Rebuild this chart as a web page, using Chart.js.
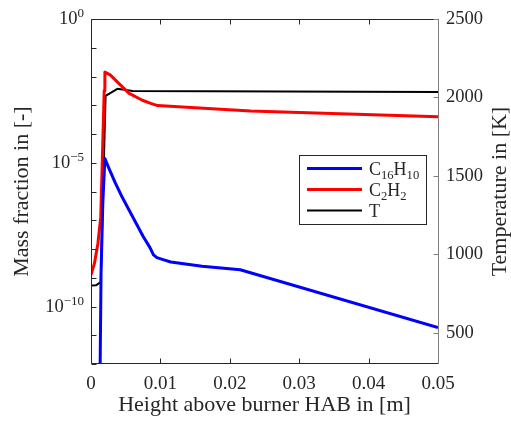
<!DOCTYPE html>
<html>
<head>
<meta charset="utf-8">
<script src="https://cdn.jsdelivr.net/npm/chart.js@4.4.1/dist/chart.umd.min.js"></script>
<style>
  html, body { margin: 0; padding: 0; background: #fff; }
  canvas { display: block; }
</style>
</head>
<body>
<canvas id="myChart" width="511" height="424"></canvas>
<script>
// height above burner [m] and values per series
var habC16 = [0.0012, 0.0013, 0.00145, 0.0017, 0.0020, 0.0026, 0.0035, 0.0045, 0.0055, 0.0065, 0.0075, 0.0085, 0.0090, 0.0095, 0.0105, 0.0115, 0.016, 0.0215, 0.05];
var c16h10 = [1e-16, 3e-13, 1.6e-9, 4.0e-7, 1.41e-5, 6.3e-6, 2.0e-6, 6.3e-7, 2.24e-7, 7.9e-8, 2.8e-8, 1.12e-8, 6.3e-9, 5.0e-9, 4.2e-9, 3.55e-9, 2.5e-9, 1.9e-9, 1.86e-11];

var habC2 = [0, 0.0005, 0.001, 0.0014, 0.0016, 0.0019, 0.0020, 0.0028, 0.004, 0.0055, 0.0074, 0.0086, 0.0096, 0.015, 0.023, 0.05];
var c2h2 = [1.26e-9, 3.2e-9, 1.6e-8, 1.26e-7, 6.3e-6, 3.2e-3, 1.45e-2, 1.12e-2, 5.8e-3, 2.6e-3, 1.5e-3, 1.17e-3, 9.8e-4, 8.3e-4, 6.3e-4, 4.0e-4];

var habT = [0, 0.0007, 0.0014, 0.0021, 0.0038, 0.006, 0.05];
var temp = [800, 802, 822, 2010, 2055, 2042, 2035];

var seriesNames = ["C_16H_10", "C_2H_2", "T"];
var seriesColors = ["#0000ff", "#ff0000", "#000000"];

var xTicks = [0, 0.01, 0.02, 0.03, 0.04, 0.05];
var xTickLabels = ["0", "0.01", "0.02", "0.03", "0.04", "0.05"];
var yDecades = [1e-12, 1e-11, 1e-10, 1e-9, 1e-8, 1e-7, 1e-6, 1e-5, 1e-4, 1e-3, 1e-2, 1e-1, 1];
var yLabelTicks = [1, 1e-5, 1e-10];
var yLabelExp = ["0", "\u22125", "\u221210"];
var tTicks = [500, 1000, 1500, 2000, 2500];
var tTickLabels = ["500", "1000", "1500", "2000", "2500"];

var FONT = '"Liberation Serif", "Times New Roman", serif';
var INK = "#262626";

function pts(xs, ys) {
  return xs.map(function (x, i) { return { x: x, y: ys[i] }; });
}

// text with "_12" parts drawn as subscripts
function drawRich(ctx, text, x, y, size) {
  var parts = text.split(/(_\d+)/);
  parts.forEach(function (p) {
    if (!p) return;
    if (p.charAt(0) === "_") {
      ctx.font = (size * 0.7) + "px " + FONT;
      ctx.fillText(p.slice(1), x, y + 4);
      x += ctx.measureText(p.slice(1)).width;
    } else {
      ctx.font = size + "px " + FONT;
      ctx.fillText(p, x, y);
      x += ctx.measureText(p).width;
    }
  });
  return x;
}

var axesPlugin = {
  id: "matlabAxes",
  afterDraw: function (chart) {
    var ctx = chart.ctx, a = chart.chartArea;
    var xs = chart.scales.x, yl = chart.scales.y, yr = chart.scales.y1;
    var L = Math.round(a.left) + 0.5, R = Math.round(a.right) + 0.5;
    var T = Math.round(a.top) + 0.5, B = Math.round(a.bottom) - 0.5;
    ctx.save();
    ctx.lineWidth = 1;

    // ticks, pointing inwards
    ctx.strokeStyle = INK;
    ctx.beginPath();
    xTicks.forEach(function (v) {
      var px = Math.round(xs.getPixelForValue(v)) + 0.5;
      ctx.moveTo(px, B); ctx.lineTo(px, B - 5);
      ctx.moveTo(px, T); ctx.lineTo(px, T + 5);
    });
    yDecades.forEach(function (v) {
      var py = Math.round(yl.getPixelForValue(v)) + 0.5;
      ctx.moveTo(L, py); ctx.lineTo(L + 5, py);
    });
    ctx.moveTo(L, T); ctx.lineTo(R, T);
    ctx.moveTo(L, T); ctx.lineTo(L, B);
    ctx.moveTo(L, B); ctx.lineTo(R, B);
    ctx.stroke();

    ctx.strokeStyle = "#808080";
    ctx.beginPath();
    tTicks.forEach(function (v) {
      var py = Math.round(yr.getPixelForValue(v)) + 0.5;
      ctx.moveTo(R, py); ctx.lineTo(R - 5, py);
    });
    ctx.moveTo(R, T); ctx.lineTo(R, B + 0.5);
    ctx.stroke();

    // left tick labels 10^n
    ctx.fillStyle = INK;
    ctx.textBaseline = "alphabetic";
    ctx.textAlign = "left";
    yLabelTicks.forEach(function (v, i) {
      var py = yl.getPixelForValue(v);
      ctx.font = "18.5px " + FONT;
      var wb = ctx.measureText("10").width;
      ctx.font = "13px " + FONT;
      var we = ctx.measureText(yLabelExp[i]).width;
      var x0 = a.left - 7 - wb - we;
      ctx.font = "18.5px " + FONT;
      ctx.fillText("10", x0, py + 5);
      ctx.font = "13px " + FONT;
      ctx.fillText(yLabelExp[i], x0 + wb, py - 2);
    });

    // axis titles
    ctx.font = "22px " + FONT;
    ctx.textAlign = "center";
    ctx.fillText("Height above burner HAB in [m]", (a.left + a.right) / 2, 411);
    ctx.save();
    ctx.translate(28, (a.top + a.bottom) / 2);
    ctx.rotate(-Math.PI / 2);
    ctx.fillText("Mass fraction in [-]", 0, 0);
    ctx.restore();
    ctx.save();
    ctx.translate(506, (a.top + a.bottom) / 2);
    ctx.rotate(-Math.PI / 2);
    ctx.fillText("Temperature in [K]", 0, 0);
    ctx.restore();

    // legend box
    ctx.fillStyle = "#fff";
    ctx.fillRect(299.5, 155.5, 127, 69);
    ctx.strokeStyle = INK;
    ctx.strokeRect(299.5, 155.5, 127, 69);
    ctx.textAlign = "left";
    chart.data.datasets.forEach(function (ds, i) {
      var y = 168.5 + i * 21;
      ctx.strokeStyle = ds.borderColor;
      ctx.lineWidth = ds.borderWidth;
      ctx.beginPath();
      ctx.moveTo(307, y); ctx.lineTo(362, y);
      ctx.stroke();
      ctx.fillStyle = INK;
      drawRich(ctx, seriesNames[i], 369, y + 6, 18);
    });
    ctx.restore();
  }
};

new Chart("myChart", {
  type: "line",
  data: {
    datasets: [
      { label: "C16H10", data: pts(habC16, c16h10), borderColor: seriesColors[0], borderWidth: 3, yAxisID: "y" },
      { label: "C2H2", data: pts(habC2, c2h2), borderColor: seriesColors[1], borderWidth: 3, yAxisID: "y" },
      { label: "T", data: pts(habT, temp), borderColor: seriesColors[2], borderWidth: 2, yAxisID: "y1" }
    ]
  },
  options: {
    responsive: false,
    animation: false,
    devicePixelRatio: 1,
    layout: { padding: { top: 16, left: 0, right: 0, bottom: 0 } },
    elements: { point: { radius: 0 }, line: { tension: 0, borderJoinStyle: "round" } },
    plugins: { legend: { display: false }, tooltip: { enabled: false } },
    scales: {
      x: {
        type: "linear", min: 0, max: 0.05,
        grid: { display: false, drawTicks: false },
        border: { display: false },
        afterBuildTicks: function (s) { s.ticks = xTicks.map(function (v) { return { value: v }; }); },
        afterFit: function (s) { s.height = 60; },
        ticks: {
          autoSkip: false, maxRotation: 0, padding: 9, color: INK,
          font: { family: FONT, size: 19 },
          callback: function (v, i) { return xTickLabels[i]; }
        }
      },
      y: {
        type: "logarithmic", position: "left", min: 1e-12, max: 1,
        grid: { display: false, drawTicks: false },
        border: { display: false },
        ticks: { display: false },
        afterFit: function (s) { s.width = 91; }
      },
      y1: {
        type: "linear", position: "right", min: 300, max: 2500,
        grid: { display: false, drawTicks: false },
        border: { display: false },
        afterBuildTicks: function (s) { s.ticks = tTicks.map(function (v) { return { value: v }; }); },
        afterFit: function (s) { s.width = 73; },
        ticks: {
          padding: 8, color: INK, font: { family: FONT, size: 18.5 },
          callback: function (v, i) { return tTickLabels[i]; }
        }
      }
    }
  },
  plugins: [axesPlugin]
});
</script>
</body>
</html>
